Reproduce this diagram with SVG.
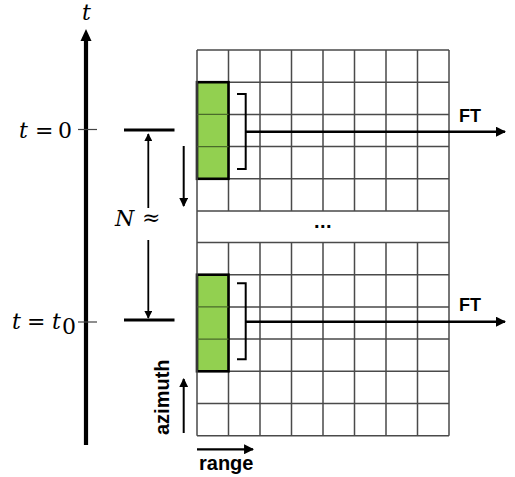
<svg xmlns="http://www.w3.org/2000/svg" width="515" height="477" viewBox="0 0 515 477">
<style>
.grid{stroke:#4a4a4a;stroke-width:1.5;fill:none}
.thick{stroke:#000;stroke-width:3;fill:none}
.med{stroke:#000;stroke-width:2;fill:none}
.tick{stroke:#444;stroke-width:1.2}
.green{fill:#92D050;stroke:#000;stroke-width:2.6}
.math{font-family:"DejaVu Serif","Liberation Serif",serif;font-size:22px;fill:#000}
.it{font-style:italic}
.lbl{font-family:"Liberation Sans",Arial,sans-serif;font-weight:bold;fill:#000}
</style>
<defs>
<marker id="ah" viewBox="0 0 10 10" refX="9" refY="5" markerWidth="4" markerHeight="4" orient="auto" markerUnits="strokeWidth"><path d="M0,0 L10,5 L0,10 z" fill="#000"/></marker>
<marker id="ahs" viewBox="0 0 10 10" refX="9" refY="5" markerWidth="4.5" markerHeight="4.5" orient="auto" markerUnits="strokeWidth"><path d="M0,0 L10,5 L0,10 z" fill="#000"/></marker>
</defs>

<g id="time-axis">
<line x1="86" y1="445" x2="86" y2="40" stroke="#000" stroke-width="4.2"/>
<path d="M80.5,41 L86,29 L91.5,41 z" fill="#000"/>
<text class="math it" x="82" y="20">t</text>
<line class="tick" x1="78" y1="129.5" x2="97" y2="129.5"/>
<line class="tick" x1="78" y1="322" x2="97" y2="322"/>
<text class="math it" x="19" y="137.5">t</text>
<text class="math" x="35" y="137.5">=</text>
<text class="math" x="58" y="137.5">0</text>
<text class="math it" x="12" y="328.5">t</text>
<text class="math" x="27" y="328.5">=</text>
<text class="math it" x="52" y="328.5">t</text>
<text class="math" x="62" y="334" font-size="16">0</text>
</g>

<g id="interval">
<line class="thick" x1="124" y1="130" x2="174.5" y2="130"/>
<line class="thick" x1="124" y1="320" x2="174.5" y2="320"/>
<line x1="148.3" y1="208" x2="148.3" y2="134" stroke="#000" stroke-width="1.8" marker-end="url(#ahs)"/>
<line x1="148.3" y1="240" x2="148.3" y2="318" stroke="#000" stroke-width="1.8" marker-end="url(#ahs)"/>
<text class="math it" x="115" y="225.5" font-size="21">N</text>
<text class="math" x="142" y="225" font-size="12" fill="#1a3a8a">≈</text>
</g>

<g id="grid-top">
<path class="grid" d="M197,50H449M197,82.2H449M197,114.4H449M197,146.6H449M197,178.8H449M197,211H449"/>
<path class="grid" d="M228.5,50V211M260,50V211M291.5,50V211M323,50V211M354.5,50V211M386,50V211M417.5,50V211"/>
<rect class="green" x="197" y="82.2" width="31.5" height="96.6"/>
<path d="M197,114.4H228.5M197,146.6H228.5" stroke="#4a6a2a" stroke-width="1.2"/>
</g>

<g id="grid-bottom">
<path class="grid" d="M197,242.5H449M197,274.7H449M197,306.9H449M197,339.1H449M197,371.3H449M197,403.5H449M197,435.7H449"/>
<path class="grid" d="M228.5,242.5V435.7M260,242.5V435.7M291.5,242.5V435.7M323,242.5V435.7M354.5,242.5V435.7M386,242.5V435.7M417.5,242.5V435.7"/>
<rect class="green" x="197" y="274.7" width="31.5" height="96.6"/>
<path d="M197,306.9H228.5M197,339.1H228.5" stroke="#4a6a2a" stroke-width="1.2"/>
</g>

<g id="grid-frame">
<path class="grid" d="M197,50V435.7M449,50V435.7"/>
<text class="lbl" x="323" y="228" font-size="20" text-anchor="middle" letter-spacing="0.5">...</text>
</g>

<g id="connectors">
<path class="med" d="M237,94H245.7V169H237" stroke-width="2.4"/>
<line x1="245.7" y1="131.7" x2="505" y2="131.7" stroke="#000" stroke-width="2.6" marker-end="url(#ah)"/>
<path class="med" d="M237,283.3H245.7V359.3H237" stroke-width="2.4"/>
<line x1="245.7" y1="321.7" x2="505" y2="321.7" stroke="#000" stroke-width="2.6" marker-end="url(#ah)"/>
<line x1="183.7" y1="146" x2="183.7" y2="206" stroke="#000" stroke-width="2" marker-end="url(#ahs)"/>
<line x1="183.7" y1="433" x2="183.7" y2="379" stroke="#000" stroke-width="2" marker-end="url(#ahs)"/>
<line x1="197" y1="449.3" x2="253" y2="449.3" stroke="#000" stroke-width="2.2" marker-end="url(#ahs)"/>
</g>

<g id="labels">
<text class="lbl" x="459" y="122" font-size="18">FT</text>
<text class="lbl" x="459" y="311" font-size="18">FT</text>
<text class="lbl" x="199" y="470" font-size="20">range</text>
<text class="lbl" font-size="20" transform="translate(168.5,435) rotate(-90)">azimuth</text>
</g>
</svg>
